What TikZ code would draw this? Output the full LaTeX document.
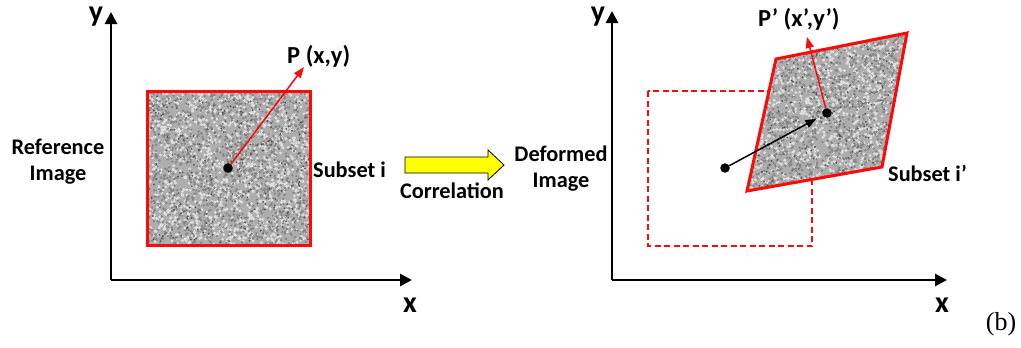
\documentclass[tikz,border=0pt]{standalone}
\usepackage{fontspec}
\setmainfont{Carlito}
\newfontfamily\tagfont{Liberation Serif}
\usetikzlibrary{arrows.meta}
\definecolor{subsetred}{RGB}{250,10,10}
\definecolor{flowyellow}{RGB}{255,255,0}

% speckle texture: base tone plus random light and dark grains
% #1,#2 = top-left corner, #3 = width, #4 = height
\newcommand\specklefill[4]{%
  \fill[black!32] (#1,#2) rectangle ++(#3,#4);
  \fill[black!13] \foreach \k in {1,...,1300}{({#1+#3*rnd},{#2+#4*rnd}) circle (1.6pt)};
  \fill[black!48] \foreach \k in {1,...,1300}{({#1+#3*rnd},{#2+#4*rnd}) circle (1.3pt)};
  \fill[black!68] \foreach \k in {1,...,260}{({#1+#3*rnd},{#2+#4*rnd}) circle (1.0pt)};
}

\begin{document}
\begin{tikzpicture}[x=1pt,y=-1pt,
  axis/.style={line width=2.8pt,-{Triangle[length=12pt,width=12pt]}},
  lbl/.style={font=\bfseries\fontsize{22.3}{26}\selectfont,inner sep=0pt},
  axlbl/.style={font=\bfseries\fontsize{30}{32}\selectfont,inner sep=0pt,anchor=base},
  ptlbl/.style={font=\bfseries\fontsize{24.5}{28}\selectfont,inner sep=0pt,anchor=base west},
  dot/.style={circle,fill=black,inner sep=0pt,minimum size=9.5pt},
  subsetframe/.style={draw=subsetred,line width=3pt,line join=miter},
  refframe/.style={draw=subsetred,line width=1.7pt,dash pattern=on 6pt off 3.5pt},
  disp/.style={draw=subsetred,line width=1.5pt,-{Triangle[length=11pt,width=8pt]}},
  moveline/.style={draw=black,line width=1.5pt,-{Triangle[length=11pt,width=8pt]},shorten >=7pt},
]
\useasboundingbox (0,0) rectangle (1021,348);
\pgfmathsetseed{4711}

% ---------- reference image ----------
\coordinate (O1) at (111,280);
\coordinate (Y1) at (111,12);
\coordinate (X1) at (412,280);
\draw[axis] (O1) -- (Y1);
\draw[axis] (O1) -- (X1);
\node[axlbl] (y1lbl) at (96,21) {y};
\node[axlbl] (x1lbl) at (410,312) {x};

\coordinate (S1a) at (147,91);
\coordinate (S1c) at (310,245);
\begin{scope}
  \clip (S1a) rectangle (S1c);
  \specklefill{147}{91}{163}{154}
\end{scope}
\draw[subsetframe] (S1a) rectangle (S1c);

\node[dot] (P) at (228,168) {};
\coordinate (Ptip) at (304,67);
\draw[disp] (P) -- (Ptip);
\node[ptlbl] (Plbl) at (287,63) {P (x,y)};
\node[lbl,anchor=base west] (sub1) at (313,177) {Subset i};
\node[lbl,align=center] (reflbl) at (58,161.5) {Reference\\Image};

% ---------- correlation step ----------
\fill[flowyellow,draw=black,line width=0.8pt]
  (405,157) -- (488,157) -- (488,150) -- (504,165) -- (488,180)
  -- (488,173) -- (405,173) -- cycle;
\node[lbl,anchor=base] (corr) at (452,198) {Correlation};
\node[lbl,align=center] (deflbl) at (561,168.5) {Deformed\\Image};

% ---------- deformed image ----------
\coordinate (O2) at (612,280);
\coordinate (Y2) at (612,11);
\coordinate (X2) at (947,280);
\draw[axis] (O2) -- (Y2);
\draw[axis] (O2) -- (X2);
\node[axlbl] (y2lbl) at (598,21) {y};
\node[axlbl] (x2lbl) at (942,312) {x};

% original subset position
\draw[refframe] (648,91) rectangle (812,246);

% deformed subset
\coordinate (Da) at (776,59);
\coordinate (Db) at (907,33);
\coordinate (Dc) at (882,167);
\coordinate (Dd) at (747,191);
\begin{scope}
  \clip (Da) -- (Db) -- (Dc) -- (Dd) -- cycle;
  \specklefill{745}{31}{164}{162}
\end{scope}
\draw[subsetframe] (Da) -- (Db) -- (Dc) -- (Dd) -- cycle;

\node[dot] (Q) at (725,168) {};
\node[dot] (P2) at (827,113) {};
\draw[moveline] (Q) -- (P2);
\coordinate (P2tip) at (807,37);
\draw[disp] (P2) -- (P2tip);
\node[ptlbl] (P2lbl) at (758,26) {P’ (x’,y’)};
\node[lbl,anchor=base west] (sub2) at (888,181) {Subset i’};

\node[font=\tagfont\fontsize{26}{28}\selectfont,inner sep=0pt,anchor=base] (tag) at (1001,330) {(b)};
\end{tikzpicture}
\end{document}
